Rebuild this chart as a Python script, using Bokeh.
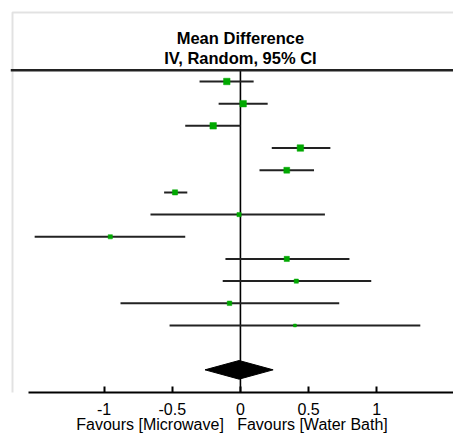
from bokeh.plotting import figure
from bokeh.models import (Range1d, LinearAxis, FixedTicker, Span, Label,
                          BoxAnnotation, ColumnDataSource)
from bokeh.embed import file_html
from bokeh.resources import INLINE

# ---- data ----
mean_diff = [-0.10, 0.02, -0.20, 0.44, 0.34, -0.48, -0.01, -0.955, 0.34, 0.41, -0.08, 0.40]
ci_low    = [-0.30, -0.16, -0.405, 0.23, 0.14, -0.56, -0.66, -1.51, -0.11, -0.13, -0.88, -0.52]
ci_high   = [0.097, 0.20, 0.0, 0.66, 0.54, -0.39, 0.62, -0.405, 0.80, 0.96, 0.725, 1.32]
weight    = [10, 10, 10, 10, 9, 8, 6.5, 6.5, 8, 6.5, 7, 4.5]   # relative study weight (est.)
pooled_est, pooled_low, pooled_high = -0.01, -0.26, 0.24
tick_values = [-1, -0.5, 0, 0.5, 1]
tick_labels = ["-1", "-0.5", "0", "0.5", "1"]
header_1 = "Mean Difference"
header_2 = "IV, Random, 95% CI"
favours_left = "Favours [Microwave]"
favours_right = "Favours [Water Bath]"

FONT = "Liberation Sans"

n = len(mean_diff)
rows = list(range(n))
pooled_row = n + 1

src = ColumnDataSource(dict(y=rows, md=mean_diff, lo=ci_low, hi=ci_high,
                            size=[0.65 * w for w in weight]))

p = figure(width=453, height=445, output_backend="svg", toolbar_location=None,
           x_axis_type=None, y_axis_type=None,
           x_range=Range1d(-1.6873, 1.5636), y_range=Range1d(14.022, -3.201),
           min_border_left=10, min_border_right=0, min_border_top=10, min_border_bottom=53)
p.outline_line_color = None
p.background_fill_color = "white"
p.border_fill_color = "white"

# outer gray frame (left and top edges visible)
p.add_layout(BoxAnnotation(left=12, right=2000, top=12, bottom=2000,
                           left_units="canvas", right_units="canvas",
                           top_units="canvas", bottom_units="canvas",
                           fill_color=None, fill_alpha=0, line_color="#a0a0a0", line_width=2))

# header
p.add_layout(Label(x=0, y=-1.98, text=header_1, text_align="center", text_baseline="alphabetic",
                   text_font=FONT, text_font_style="bold", text_font_size="16.5px", text_color="black"))
p.add_layout(Label(x=0, y=-1.06, text=header_2, text_align="center", text_baseline="alphabetic",
                   text_font=FONT, text_font_style="bold", text_font_size="16.5px", text_color="black"))
p.add_layout(Span(location=-0.51, dimension="width", line_color="#222222", line_width=2.5))

# no-effect line
p.segment(x0=[0], y0=[-0.51], x1=[0], y1=[14.1], line_color="black", line_width=1.6)

# CIs and point estimates
p.segment(x0="lo", y0="y", x1="hi", y1="y", source=src, line_color="#222222", line_width=2)
p.scatter(x="md", y="y", size="size", marker="square", source=src,
          fill_color="#00A800", line_color="#00A800", line_width=0.5)

# pooled diamond
h = 0.42
p.patch(x=[pooled_low, pooled_est, pooled_high, pooled_est],
        y=[pooled_row, pooled_row - h, pooled_row, pooled_row + h],
        fill_color="black", line_color="black")

# x axis
gap = "\u00a0\u00a0\u00a0"
ax = LinearAxis(ticker=FixedTicker(ticks=tick_values), bounds=(-1.556, 1.5636),
                major_label_overrides={v: s for v, s in zip(tick_values, tick_labels)},
                axis_label=favours_left + gap + favours_right)
ax.axis_line_color = "black"
ax.axis_line_width = 2
ax.major_tick_line_color = "black"
ax.major_tick_line_width = 2
ax.major_tick_in = 6
ax.major_tick_out = 0
ax.minor_tick_line_color = None
ax.major_label_standoff = 10
ax.major_label_text_font = FONT
ax.major_label_text_font_size = "16px"
ax.major_label_text_color = "black"
ax.axis_label_text_font = FONT
ax.axis_label_text_font_size = "16px"
ax.axis_label_text_font_style = "normal"
ax.axis_label_text_color = "black"
ax.axis_label_standoff = -2
p.add_layout(ax, "below")

open("out.html", "w").write(file_html(p, INLINE))
